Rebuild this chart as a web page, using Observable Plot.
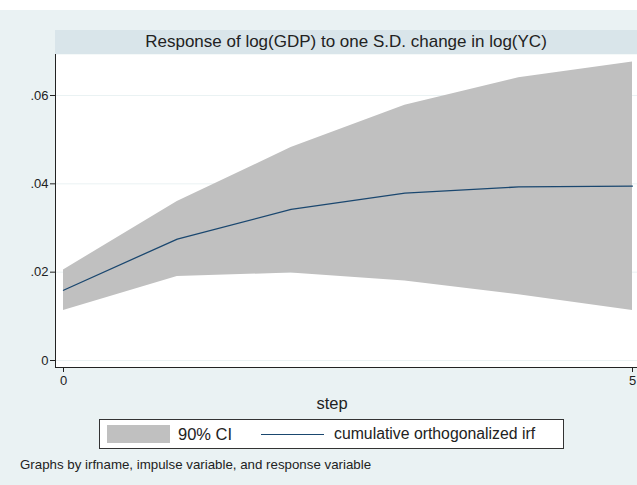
<!DOCTYPE html>
<html>
<head>
<meta charset="utf-8">
<script src="https://cdn.jsdelivr.net/npm/d3@7"></script>
<script src="https://cdn.jsdelivr.net/npm/@observablehq/plot@0.6"></script>
<style>
  html, body { margin: 0; padding: 0; background: #ffffff; }
  #wrap { position: relative; width: 637px; height: 485px; overflow: hidden;
          font-family: "Liberation Sans", Arial, Helvetica, sans-serif; color: #222; }
  #bg { position: absolute; left: 0; top: 10px; width: 637px; height: 475px; background: #eaf2f3; }
  #titlebar { position: absolute; left: 55px; top: 30px; width: 582px; height: 24px; background: #d9e5ea;
              font-size: 17px; line-height: 24px; text-align: center; color: #222; }
  #chart { position: absolute; left: 0; top: 0; }
  #xtitle { position: absolute; left: 232px; width: 200px; top: 394px; text-align: center; font-size: 16.5px; color: #222; }
  #legend { position: absolute; left: 99px; top: 419px; width: 463px; height: 28px; background: #fff;
            border: 1px solid #333; font-size: 16.5px; line-height: 28px; color: #222; }
  #legend .sw { position: absolute; left: 7px; top: 5px; width: 63px; height: 18px; background: #c0c0c0; }
  #legend .t1 { position: absolute; left: 78px; top: 0; }
  #legend .ln { position: absolute; left: 161px; top: 14px; width: 63px; height: 0; border-top: 1.3px solid #1a476f; }
  #legend .t2 { position: absolute; left: 234px; top: 0; font-size: 15.8px; }
  #note { position: absolute; left: 20px; top: 457px; font-size: 13.3px; color: #222; }
</style>
</head>
<body>
<div id="wrap">
  <div id="bg"></div>
  <div id="titlebar"></div>
  <div id="chart"></div>
  <div id="xtitle"></div>
  <div id="legend"><div class="sw"></div><div class="t1"></div><div class="ln"></div><div class="t2"></div></div>
  <div id="note"></div>
</div>
<script>
// ---- data ----
const steps = [0, 1, 2, 3, 4, 5];
const irf   = [0.0159, 0.0275, 0.0342, 0.0379, 0.0393, 0.0395];
const lower = [0.0113, 0.0190, 0.0198, 0.0180, 0.0149, 0.0113];
const upper = [0.0205, 0.0360, 0.0482, 0.0578, 0.0640, 0.0676];
const yTicks = [0, 0.02, 0.04, 0.06];
const xTicks = [0, 5];
const titleText = "Response of log(GDP) to one S.D. change in log(YC)";
const xLabel = "step";
const legendLabels = ["90% CI", "cumulative orthogonalized irf"];
const noteText = "Graphs by irfname, impulse variable, and response variable";

const data = steps.map((s, i) => ({step: s, irf: irf[i], lower: lower[i], upper: upper[i]}));
const fmt = d => d === 0 ? "0" : d.toFixed(2).replace(/^0/, "");

document.getElementById("titlebar").textContent = titleText;
document.getElementById("xtitle").textContent = xLabel;
document.querySelector("#legend .t1").textContent = legendLabels[0];
document.querySelector("#legend .t2").textContent = legendLabels[1];
document.getElementById("note").textContent = noteText;

const chart = Plot.plot({
  width: 637,
  height: 400,
  marginLeft: 55,
  marginRight: 0,
  marginTop: 54,
  marginBottom: 33,
  insetLeft: 8,
  insetRight: 5,
  insetTop: 41,
  insetBottom: 7,
  style: {background: "transparent", fontFamily: "Liberation Sans, Arial, Helvetica, sans-serif", fontSize: "13px", color: "#222"},
  x: {domain: [0, 5]},
  y: {domain: [0, 0.06]},
  marks: [
    Plot.frame({fill: "#ffffff", stroke: "none"}),
    Plot.gridY(yTicks, {stroke: "#eaf2f3", strokeOpacity: 1}),
    Plot.areaY(data, {x: "step", y1: "lower", y2: "upper", fill: "#c0c0c0", fillOpacity: 1}),
    Plot.lineY(data, {x: "step", y: "irf", stroke: "#1a476f", strokeWidth: 1.3}),
    Plot.frame({anchor: "left", stroke: "#222"}),
    Plot.frame({anchor: "bottom", stroke: "#222"}),
    Plot.axisY(yTicks, {tickSize: 5, tickPadding: 2, tickFormat: fmt, label: null, stroke: "#222"}),
    Plot.axisX(xTicks, {tickSize: 5, tickPadding: 3, tickFormat: d => String(d), label: null, stroke: "#222"})
  ]
});
document.getElementById("chart").appendChild(chart);
</script>
</body>
</html>
